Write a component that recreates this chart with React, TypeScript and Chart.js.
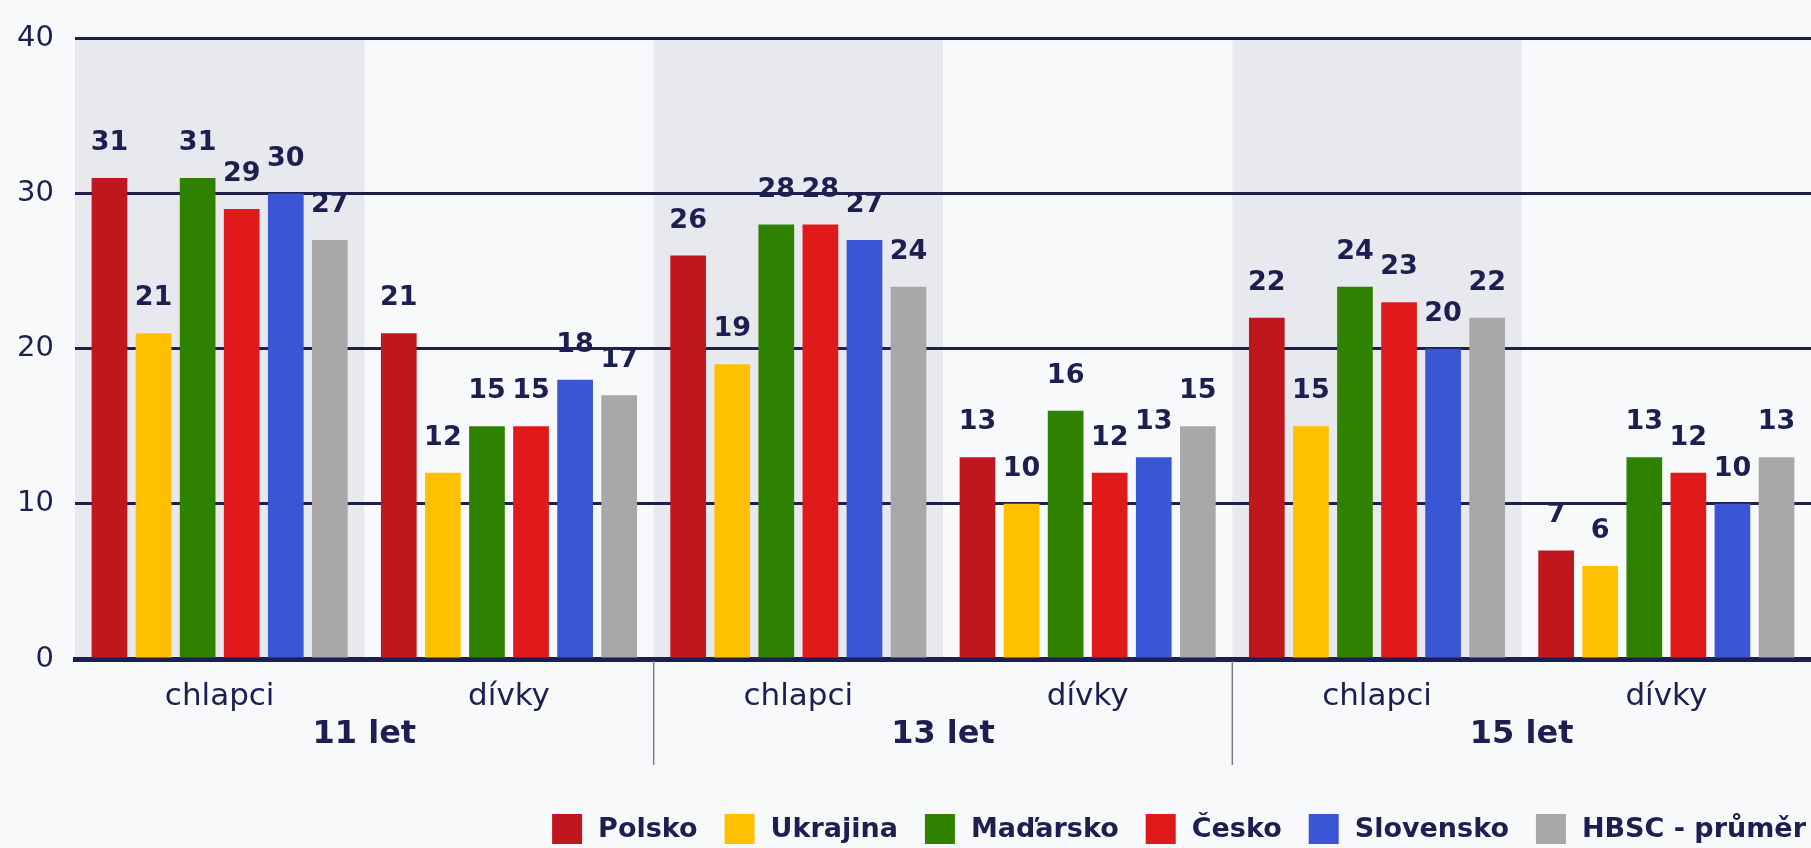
import React, { useEffect, useRef } from 'react';
import { Chart, registerables } from 'chart.js';

Chart.register(...registerables);

const categories = ['chlapci', 'dívky', 'chlapci', 'dívky', 'chlapci', 'dívky'];
const ageGroups = ['11 let', '13 let', '15 let'];
const seriesNames = ['Polsko', 'Ukrajina', 'Maďarsko', 'Česko', 'Slovensko', 'HBSC - průměr'];
const seriesColors = ['#c0171f', '#ffc000', '#2f8200', '#e01a1a', '#3a55d6', '#a8a8a8'];

const polsko = [31, 21, 26, 13, 22, 7];
const ukrajina = [21, 12, 19, 10, 15, 6];
const madarsko = [31, 15, 28, 16, 24, 13];
const cesko = [29, 15, 28, 12, 23, 12];
const slovensko = [30, 18, 27, 13, 20, 10];
const hbsc = [27, 17, 24, 15, 22, 13];

const seriesValues = [polsko, ukrajina, madarsko, cesko, slovensko, hbsc];
const yTicks = [0, 10, 20, 30, 40];

const NAVY = '#1c1f50';
const FONT = '"DejaVu Sans", Verdana, sans-serif';

const decorPlugin = {
  id: 'decor',
  beforeDraw(chart: any) {
    const { ctx, chartArea, scales } = chart;
    ctx.save();
    ctx.fillStyle = '#f8f9fb';
    ctx.fillRect(0, 0, chart.width, chart.height);
    const x = scales.x;
    const n = categories.length;
    const w = (chartArea.right - chartArea.left) / n;
    ctx.fillStyle = '#e8e9ee';
    for (let i = 0; i < n; i += 2) {
      const cx = x.getPixelForValue(i);
      ctx.fillRect(cx - w / 2, chartArea.top, w, chartArea.bottom - chartArea.top);
    }
    ctx.restore();
  },
  afterDatasetsDraw(chart: any) {
    const { ctx } = chart;
    ctx.save();
    ctx.font = `bold 27px ${FONT}`;
    ctx.fillStyle = NAVY;
    ctx.textAlign = 'center';
    ctx.textBaseline = 'alphabetic';
    chart.data.datasets.forEach((ds: any, di: number) => {
      const meta = chart.getDatasetMeta(di);
      meta.data.forEach((bar: any, i: number) => {
        ctx.fillText(String(ds.data[i]), bar.x, bar.y - 28);
      });
    });
    ctx.restore();
  },
  afterDraw(chart: any) {
    const { ctx, chartArea, scales } = chart;
    const x = scales.x;
    const n = categories.length;
    const w = (chartArea.right - chartArea.left) / n;
    ctx.save();
    // separators between age groups
    ctx.strokeStyle = '#7a7d8c';
    ctx.lineWidth = 1.5;
    for (let g = 1; g < ageGroups.length; g++) {
      const sx = x.getPixelForValue(g * 2) - w / 2;
      ctx.beginPath();
      ctx.moveTo(sx, chartArea.bottom + 2);
      ctx.lineTo(sx, chartArea.bottom + 106);
      ctx.stroke();
    }
    // age group labels
    ctx.font = `bold 32px ${FONT}`;
    ctx.fillStyle = NAVY;
    ctx.textAlign = 'center';
    ctx.textBaseline = 'middle';
    ageGroups.forEach((g, gi) => {
      const cx = (x.getPixelForValue(gi * 2) + x.getPixelForValue(gi * 2 + 1)) / 2;
      ctx.fillText(g, cx, chartArea.bottom + 76);
    });
    // legend
    ctx.font = `bold 27px ${FONT}`;
    const box = 30;
    const gapBT = 16;
    const gapItem = 27;
    const ds = chart.data.datasets;
    const widths = ds.map((d: any) => ctx.measureText(d.label).width);
    let total = 0;
    widths.forEach((tw: number) => (total += box + gapBT + tw));
    total += gapItem * (ds.length - 1);
    let lx = chart.width - 5 - total;
    const cy = 829;
    ctx.textAlign = 'left';
    ctx.textBaseline = 'middle';
    ds.forEach((d: any, i: number) => {
      ctx.fillStyle = d.backgroundColor;
      ctx.fillRect(lx, cy - box / 2, box, box);
      ctx.fillStyle = NAVY;
      ctx.fillText(d.label, lx + box + gapBT, cy + 1);
      lx += box + gapBT + widths[i] + gapItem;
    });
    ctx.restore();
  },
};

export default function App() {
  const ref = useRef<HTMLCanvasElement | null>(null);
  useEffect(() => {
    if (!ref.current) return;
    const chart = new Chart(ref.current, {
      type: 'bar',
      data: {
        labels: categories,
        datasets: seriesNames.map((name, i) => ({
          label: name,
          data: seriesValues[i],
          backgroundColor: seriesColors[i],
          borderWidth: 0,
          barPercentage: 0.81,
          categoryPercentage: 0.914,
        })),
      },
      options: {
        animation: false,
        responsive: true,
        maintainAspectRatio: false,
        layout: { padding: { top: 36, left: 0, right: 0, bottom: 0 } },
        plugins: {
          legend: { display: false },
          tooltip: { enabled: false },
        },
        scales: {
          x: {
            z: 1,
            grid: { display: false },
            border: { display: true, color: NAVY, width: 5 },
            ticks: {
              color: NAVY,
              font: { family: FONT, size: 31 },
              padding: 11,
              maxRotation: 0,
              autoSkip: false,
            },
            afterFit: (s: any) => {
              s.height = 189;
            },
          },
          y: {
            min: 0,
            max: 40,
            afterBuildTicks: (s: any) => {
              s.ticks = yTicks.map((v) => ({ value: v }));
            },
            grid: { color: NAVY, lineWidth: 3, drawTicks: false },
            border: { display: false },
            ticks: {
              color: NAVY,
              font: { family: FONT, size: 29 },
              padding: 21,
            },
            afterFit: (s: any) => {
              s.width = 75;
            },
          },
        },
      },
      plugins: [decorPlugin],
    });
    return () => chart.destroy();
  }, []);
  return (
    <div style={{ position: 'fixed', left: 0, top: 0, width: 1811, height: 848 }}>
      <canvas ref={ref} />
    </div>
  );
}
